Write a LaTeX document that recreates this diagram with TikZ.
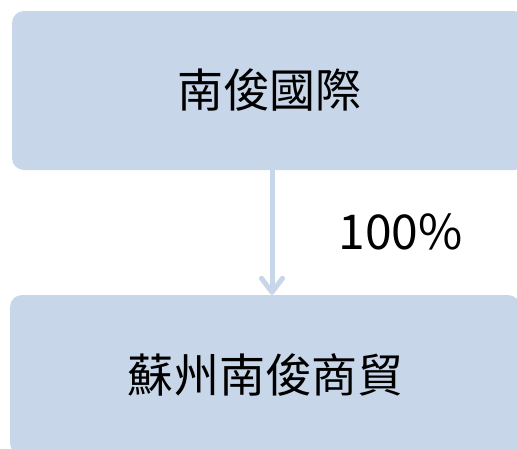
\documentclass[tikz,border=0pt]{standalone}
\usepackage{fontspec}
\setmainfont{Noto Sans CJK TC}
\usetikzlibrary{arrows.meta}
\usetikzlibrary{positioning}

\definecolor{boxblue}{RGB}{200,214,233}

\begin{document}
\begin{tikzpicture}[
        x=1pt, y=-1pt,
        company/.style={rectangle, fill=boxblue, rounded corners=12pt, inner sep=0,
            minimum width=514pt, minimum height=159pt, font=\fontsize{46}{50}\selectfont},
        share/.style={font=\fontsize{48}{50}\selectfont, inner sep=0},
        link/.style={draw=boxblue, line width=5pt,
            -{Straight Barb[length=14pt, width=21pt, line cap=round, line join=round]}}
    ]
        \useasboundingbox (0,0) rectangle (517,448);
        \clip (0,0) rectangle (517,448);

        % 南俊國際
        \node[company] (parent) at (269, 90.5) {南俊國際};

        % 蘇州南俊商貿
        \node[company, minimum width=510pt, minimum height=160pt] (child) at (265, 375) {蘇州南俊商貿};

        % 持股
        \draw[link] ([xshift=3pt]parent.south) -- ([xshift=7pt]child.north);
        \node[share] (pct) at (400.5, 232) {100\%};

    \end{tikzpicture}
\end{document}
